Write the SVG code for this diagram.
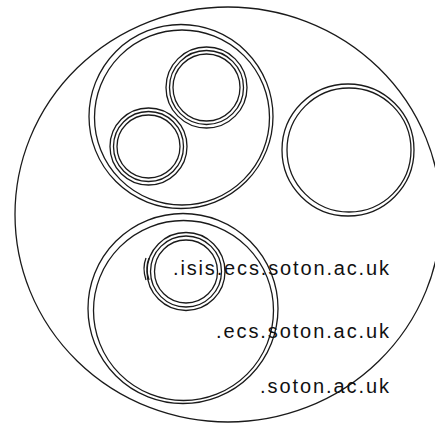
<svg xmlns="http://www.w3.org/2000/svg" width="435" height="426" viewBox="0 0 435 426">
<style>
.c{fill:none;stroke:#1a1a1a;stroke-width:1.3}
.t{font-family:"Liberation Sans",Arial,sans-serif;font-size:20px;fill:#111}
</style>
<rect width="435" height="426" fill="#fff"/>
<g id="soton">
<ellipse class="c" cx="228" cy="214.5" rx="213" ry="207.5"/>
</g>
<g id="groupA">
<circle class="c" cx="181" cy="116.5" r="92"/>
<circle class="c" cx="182" cy="117.5" r="87.5"/>
</g>
<g id="groupA1">
<circle class="c" cx="206.5" cy="87.5" r="40.5"/>
<circle class="c" cx="206.5" cy="87.5" r="37"/>
<circle class="c" cx="206.5" cy="87.5" r="33.5"/>
</g>
<g id="groupA2">
<circle class="c" cx="148.5" cy="146.5" r="38.5"/>
<circle class="c" cx="148.5" cy="146.5" r="35"/>
<circle class="c" cx="148.5" cy="146.5" r="31.5"/>
</g>
<g id="groupB">
<circle class="c" cx="348" cy="150" r="66"/>
<circle class="c" cx="349" cy="150" r="62"/>
</g>
<g id="ecs">
<circle class="c" cx="183" cy="308.5" r="95"/>
<circle class="c" cx="183.5" cy="310.5" r="90"/>
</g>
<g id="isis">
<circle class="c" cx="186" cy="271.5" r="39"/>
<circle class="c" cx="186" cy="271.5" r="35.5"/>
<circle class="c" cx="186" cy="271.5" r="31.5"/>
<path class="c" d="M146,258 Q142,268 146,280"/>
<path class="c" d="M149,258 Q145,268 149,280"/>
</g>
<g id="labels">
<text class="t" x="173" y="275" textLength="216" lengthAdjust="spacing">.isis.ecs.soton.ac.uk</text>
<text class="t" x="216" y="337.5" textLength="173" lengthAdjust="spacing">.ecs.soton.ac.uk</text>
<text class="t" x="260" y="393" textLength="129" lengthAdjust="spacing">.soton.ac.uk</text>
</g>
</svg>
